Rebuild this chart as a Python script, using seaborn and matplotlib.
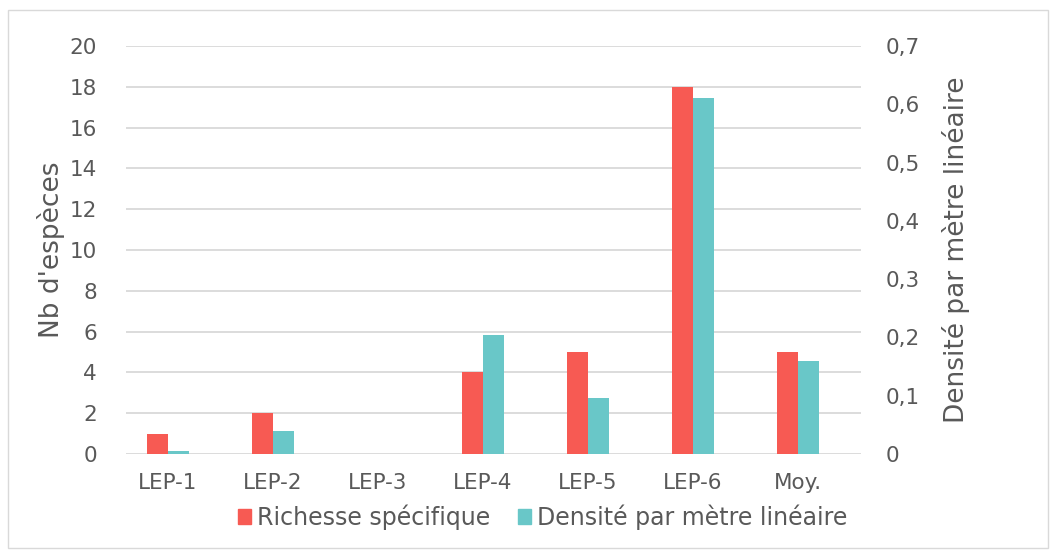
import matplotlib
matplotlib.use("Agg")
import matplotlib.pyplot as plt
import matplotlib.patches as mpatches
from matplotlib.ticker import FuncFormatter, MultipleLocator
import seaborn as sns
import pandas as pd

categories = ["LEP-1", "LEP-2", "LEP-3", "LEP-4", "LEP-5", "LEP-6", "Moy."]
richesse = [1, 2, 0, 4, 5, 18, 5]
densite = [0.005, 0.04, 0.0, 0.205, 0.096, 0.61, 0.16]
series_names = ["Richesse spécifique", "Densité par mètre linéaire"]
colors = ["#F75A53", "#69C7C8"]

sns.set_theme(style="white")
plt.rcParams["font.family"] = ["DejaVu Sans"]
text_color = "#595959"

df_r = pd.DataFrame({"cat": categories, "val": richesse, "series": series_names[0]})
df_d = pd.DataFrame({"cat": categories, "val": densite, "series": series_names[1]})

fig = plt.figure(figsize=(10.54, 5.5), dpi=100)
ax = fig.add_axes([126 / 1054, 1 - 454 / 550, (861 - 126) / 1054, (454 - 46) / 550])
ax2 = ax.twinx()

pal = dict(zip(series_names, colors))
sns.barplot(data=df_r, x="cat", y="val", hue="series", hue_order=series_names,
            order=categories, palette=pal, width=0.4, dodge=True, ax=ax,
            legend=False, saturation=1, errorbar=None, linewidth=0)
sns.barplot(data=df_d, x="cat", y="val", hue="series", hue_order=series_names,
            order=categories, palette=pal, width=0.4, dodge=True, ax=ax2,
            legend=False, saturation=1, errorbar=None, linewidth=0)

shift = 0.103
ax.set_xlim(-0.5 + shift, len(categories) - 0.5 + shift)
ax.set_ylim(0, 20)
ax.yaxis.set_major_locator(MultipleLocator(2))
ax2.set_ylim(0, 0.7)
ax2.yaxis.set_major_locator(MultipleLocator(0.1))
ax2.yaxis.set_major_formatter(FuncFormatter(
    lambda v, p: "0" if abs(v) < 1e-9 else f"{v:.1f}".replace(".", ",")))

ax.grid(axis="y", color="#D9D9D9", linewidth=1.3)
ax.set_axisbelow(True)
ax2.grid(False)
for a in (ax, ax2):
    for s in a.spines.values():
        s.set_visible(False)
    a.tick_params(axis="both", length=0, colors=text_color, labelsize=15.5)
ax.tick_params(axis="y", pad=21)
ax2.tick_params(axis="y", pad=18)
ax.tick_params(axis="x", pad=14)
ax.set_xlabel("")
ax.set_ylabel("Nb d'espèces", color=text_color, fontsize=19, labelpad=3)
ax2.set_ylabel("Densité par mètre linéaire", color=text_color, fontsize=19, labelpad=16)

handles = [mpatches.Patch(color=c, label=n) for c, n in zip(colors, series_names)]
fig.legend(handles=handles, loc="center", bbox_to_anchor=(0.515, 1 - 517 / 550),
           ncol=2, frameon=False, fontsize=17, handlelength=0.55, handleheight=0.55,
           handletextpad=0.25, columnspacing=1.2, labelcolor=text_color)

fig.patches.append(mpatches.Rectangle((8 / 1054, 2 / 550), 1040 / 1054, 538 / 550,
                                      transform=fig.transFigure, fill=False,
                                      edgecolor="#D9D9D9", linewidth=1))

fig.savefig("out.png", dpi=100)
